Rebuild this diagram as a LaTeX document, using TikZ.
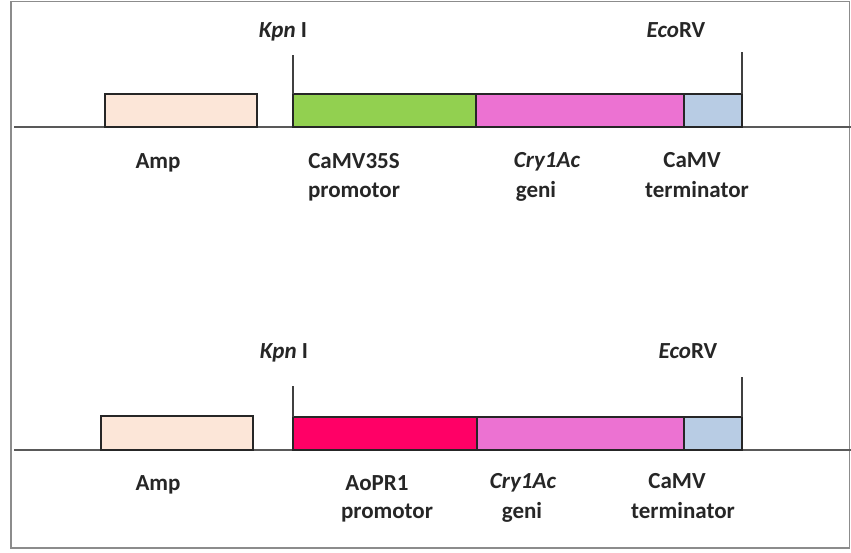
\documentclass[tikz,border=0pt]{standalone}
\usepackage{fontspec}
\setmainfont{Carlito}
\begin{document}
\begin{tikzpicture}[x=1pt,y=-1pt,
  seg/.style={draw=black!85,line width=1.4pt,minimum height=33pt,inner sep=0pt,outer sep=0pt,anchor=south west},
  dna/.style={draw=black!65,line width=1.8pt},
  cut/.style={draw=black!75,line width=1.2pt},
  lab/.style={font=\fontsize{23}{25}\selectfont\bfseries,text=black!85,inner sep=0pt,anchor=base},
]
\useasboundingbox (0,0) rectangle (851,552);
\draw[draw=black!45,line width=1.6pt] (11,1.5) rectangle (849.5,548);
\definecolor{peach}{HTML}{FCE6D8}
\definecolor{lgreen}{HTML}{92D050}
\definecolor{gpink}{HTML}{EC72D2}
\definecolor{lblue}{HTML}{B8CCE4}
\definecolor{hotred}{HTML}{FF0066}

% ---------- row 1 ----------
\coordinate (l1a) at (14,127);
\coordinate (l1b) at (851,127);
\draw[dna] (l1a) -- (l1b);
\node[seg,fill=peach,minimum width=152pt] (amp1) at (105,127) {};
\node[seg,fill=lgreen,minimum width=183pt] (pro1) at (293,127) {};
\node[seg,fill=gpink,minimum width=208pt] (cry1) at (476,127) {};
\node[seg,fill=lblue,minimum width=58pt] (ter1) at (684,127) {};
\coordinate (k1) at (293,55);
\coordinate (e1) at (742,52);
\draw[cut] (pro1.north west) -- (k1);
\draw[cut] (ter1.north east) -- (e1);
\node[lab] (kl1) at (283,37) {\itshape Kpn\/\upshape\ I};
\node[lab] (el1) at (676,37) {\itshape Eco\/\upshape RV};
\node[lab] (al1) at (158,168) {Amp};
\node[lab] (pl1a) at (354,168) {CaMV35S};
\node[lab] (pl1b) at (354,197) {promotor};
\node[lab] (cl1a) at (547,167) {\itshape Cry1Ac};
\node[lab] (cl1b) at (536,197) {geni};
\node[lab] (tl1a) at (692,167) {CaMV};
\node[lab] (tl1b) at (697,197) {terminator};

% ---------- row 2 ----------
\coordinate (l2a) at (14,450);
\coordinate (l2b) at (851,450);
\draw[dna] (l2a) -- (l2b);
\node[seg,fill=peach,minimum width=152pt,minimum height=34pt] (amp2) at (101,450) {};
\node[seg,fill=hotred,minimum width=184pt] (pro2) at (293,450) {};
\node[seg,fill=gpink,minimum width=207pt] (cry2) at (477,450) {};
\node[seg,fill=lblue,minimum width=58pt] (ter2) at (684,450) {};
\coordinate (k2) at (293,386);
\coordinate (e2) at (742,377);
\draw[cut] (pro2.north west) -- (k2);
\draw[cut] (ter2.north east) -- (e2);
\node[lab] (kl2) at (284,358) {\itshape Kpn\/\upshape\ I};
\node[lab] (el2) at (688,358) {\itshape Eco\/\upshape RV};
\node[lab] (al2) at (158,490) {Amp};
\node[lab] (pl2a) at (377,490) {AoPR1};
\node[lab] (pl2b) at (387,518) {promotor};
\node[lab] (cl2a) at (523,488) {\itshape Cry1Ac};
\node[lab] (cl2b) at (522,518) {geni};
\node[lab] (tl2a) at (677,488) {CaMV};
\node[lab] (tl2b) at (683,518) {terminator};
\end{tikzpicture}
\end{document}
